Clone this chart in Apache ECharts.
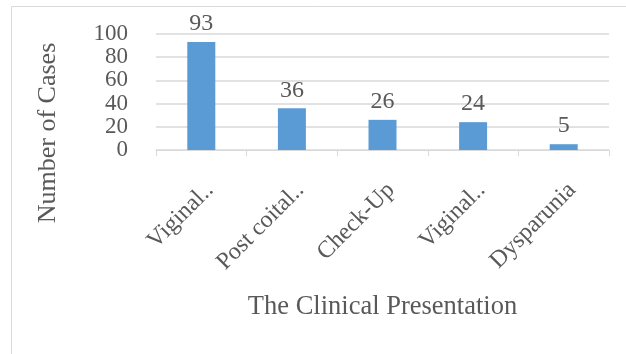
<!DOCTYPE html>
<html>
<head>
<meta charset="utf-8">
<script src="https://cdn.jsdelivr.net/npm/echarts@6/dist/echarts.min.js"></script>
<style>
  html, body { margin: 0; padding: 0; background: #fff; }
  #chart { width: 626px; height: 354px; }
</style>
</head>
<body>
<div id="chart"></div>
<script>
// Clinical presentation counts
const categories = ['Viginal..', 'Post coital..', 'Check-Up', 'Viginal..', 'Dysparunia'];
const caseCounts = [93, 36, 26, 24, 5];
const yTicks = [0, 20, 40, 60, 80, 100];

const serif = '"Liberation Serif", "Times New Roman", serif';
const textColor = '#595959';

const chart = echarts.init(document.getElementById('chart'));
chart.setOption({
  animation: false,
  graphic: [{
    type: 'rect',
    shape: { x: 11.5, y: 6.5, width: 700, height: 400 },
    style: { fill: 'none', stroke: '#D9D9D9', lineWidth: 1 }
  }],
  grid: { left: 156, right: 17, top: 34, bottom: 204 },
  xAxis: {
    type: 'category',
    data: categories,
    name: 'The Clinical Presentation',
    nameLocation: 'middle',
    nameGap: 144,
    nameTextStyle: { fontFamily: serif, fontSize: 26.5, color: textColor },
    axisLine: { lineStyle: { color: '#D9D9D9' } },
    axisTick: { show: true, length: 6, lineStyle: { color: '#D9D9D9' } },
    axisLabel: {
      interval: 0,
      rotate: 45,
      margin: 28,
      align: 'right',
      verticalAlign: 'top',
      fontFamily: serif,
      fontSize: 24,
      color: textColor
    }
  },
  yAxis: {
    type: 'value',
    min: 0,
    max: 100,
    interval: 20,
    name: 'Number of Cases',
    nameLocation: 'middle',
    nameGap: 95,
    nameTextStyle: {
      fontFamily: serif,
      fontSize: 26,
      color: textColor,
      padding: [0, 82, 0, 0]
    },
    axisLine: { show: false },
    axisTick: { show: false },
    axisLabel: {
      margin: 28,
      fontFamily: serif,
      fontSize: 23,
      color: textColor,
      formatter: v => (yTicks.includes(v) ? String(v) : '')
    },
    splitLine: { lineStyle: { color: '#D9D9D9', width: 1.5 } }
  },
  series: [{
    type: 'bar',
    data: caseCounts,
    barWidth: 28,
    itemStyle: { color: '#5B9BD5' },
    label: {
      show: true,
      position: 'top',
      distance: 6,
      fontFamily: serif,
      fontSize: 24,
      color: textColor
    }
  }]
});
</script>
</body>
</html>
